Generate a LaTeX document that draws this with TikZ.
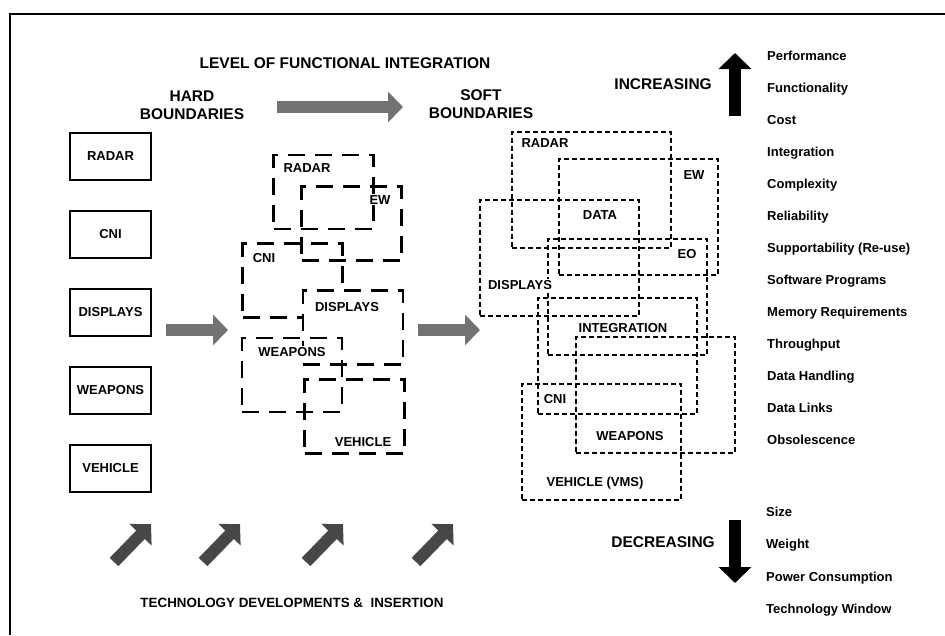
\documentclass[tikz,border=0pt]{standalone}
\usepackage{fontspec}
\setmainfont{Liberation Sans}
\usetikzlibrary{arrows.meta, positioning}

\tikzset{
    hardbox/.style={draw, line width=2pt, minimum width=81pt, minimum height=47pt, inner sep=0pt,
        font=\fontsize{13}{15}\selectfont\bfseries},
    midbox/.style={draw, line width=2.2pt, dash pattern=on 17pt off 10pt,
        minimum width=100pt, minimum height=74pt, inner sep=0pt},
    softbox/.style={draw, line width=2pt, dash pattern=on 5pt off 3pt,
        minimum width=159pt, minimum height=116pt, inner sep=0pt},
    boxtag/.style={fill=white, inner sep=1pt, font=\fontsize{13}{15}\selectfont\bfseries},
    headtext/.style={align=center, inner sep=0pt, font=\fontsize{15.5}{18}\selectfont\bfseries},
    listitem/.style={inner sep=0pt, text height=10pt, text depth=3pt,
        font=\fontsize{13}{15}\selectfont\bfseries},
    greyarrow/.style={line width=12pt, black!55, -{Triangle[width=30pt, length=15pt]}},
    techarrow/.style={line width=12pt, black!72, -{Triangle[width=30pt, length=15pt]}},
    trendarrow/.style={line width=12pt, black, -{Triangle[width=32pt, length=16pt]}},
}

\begin{document}
\begin{tikzpicture}[x=1pt, y=-1pt]
        \useasboundingbox (0, 0) rectangle (945, 635);
        \draw[line width=2pt] (10, 635) -- (10, 14) -- (945, 14);

        % headings
        \node[headtext] (Hlevel) at (345, 63) {LEVEL OF FUNCTIONAL INTEGRATION};
        \node[headtext] (Hhard) at (192, 105) {HARD\\BOUNDARIES};
        \node[headtext] (Hsoft) at (481, 104) {SOFT\\BOUNDARIES};
        \node[headtext, anchor=east] (Hinc) at (712, 84) {INCREASING};
        \node[headtext, anchor=east] (Hdec) at (715, 542) {DECREASING};
        \node[headtext, font=\fontsize{13.4}{16}\selectfont\bfseries] (Htech) at (292, 603)
            {TECHNOLOGY DEVELOPMENTS \&~~INSERTION};

        % hard boundaries
        \node[hardbox] (La) at (110.5, 156.5) {RADAR};
        \node[hardbox, below=29pt of La] (Lb) {CNI};
        \node[hardbox, below=29pt of Lb] (Lc) {DISPLAYS};
        \node[hardbox, below=29pt of Lc] (Ld) {WEAPONS};
        \node[hardbox, below=29pt of Ld] (Le) {VEHICLE};

        % partly merged
        \node[midbox] (Ma) at (323.5, 192) {};
        \node[midbox] (Mb) at (351.5, 223.5) {};
        \node[midbox] (Mc) at (292.5, 280.5) {};
        \node[midbox, fill=white] (Md) at (353, 327.5) {};
        \node[midbox] (Me) at (292, 375) {};
        \node[midbox] (Mf) at (354.5, 416.5) {};
        \node[boxtag] (Ta) at (307, 168) {RADAR};
        \node[boxtag] (Tb) at (380, 200) {EW};
        \node[boxtag] (Tc) at (264, 258) {CNI};
        \node[boxtag] (Td) at (347, 307) {DISPLAYS};
        \node[boxtag] (Te) at (292, 352) {WEAPONS};
        \node[boxtag] (Tf) at (363, 442) {VEHICLE};

        % soft boundaries
        \node[softbox] (Sa) at (591, 190) {};
        \node[softbox] (Sb) at (638.5, 217) {};
        \node[softbox] (Sc) at (559, 258) {};
        \node[softbox] (Sd) at (627, 297) {};
        \node[softbox] (Se) at (617, 355.5) {};
        \node[softbox] (Sf) at (655, 395) {};
        \node[softbox] (Sg) at (601, 441.5) {};
        \node[boxtag] (Ua) at (545, 143) {RADAR};
        \node[boxtag] (Ub) at (694, 175) {EW};
        \node[boxtag] (Uc) at (600, 215) {DATA};
        \node[boxtag] (Ud) at (687, 254) {EO};
        \node[boxtag] (Ue) at (520, 285) {DISPLAYS};
        \node[boxtag] (Uf) at (623, 328) {INTEGRATION};
        \node[boxtag] (Ug) at (555, 399) {CNI};
        \node[boxtag] (Uh) at (630, 436) {WEAPONS};
        \node[boxtag] (Ui) at (595, 483) {VEHICLE (VMS)};

        % grey arrows
        \coordinate (Ga) at (277, 107);
        \coordinate (Gb) at (403, 107);
        \coordinate (Gc) at (166, 330);
        \coordinate (Gd) at (228, 330);
        \coordinate (Ge) at (418, 330);
        \coordinate (Gf) at (480, 330);
        \draw[greyarrow] (Ga) -- (Gb);
        \draw[greyarrow] (Gc) -- (Gd);
        \draw[greyarrow] (Ge) -- (Gf);

        \coordinate (Da) at (114, 562);
        \coordinate (Db) at (151, 524);
        \coordinate (Dc) at (203, 562);
        \coordinate (Dd) at (240, 524);
        \coordinate (De) at (306, 562);
        \coordinate (Df) at (343, 524);
        \coordinate (Dg) at (416, 562);
        \coordinate (Dh) at (453, 524);
        \draw[techarrow] (Da) -- (Db);
        \draw[techarrow] (Dc) -- (Dd);
        \draw[techarrow] (De) -- (Df);
        \draw[techarrow] (Dg) -- (Dh);

        % trends
        \coordinate (Ka) at (735, 116);
        \coordinate (Kb) at (735, 53);
        \coordinate (Kc) at (735, 520);
        \coordinate (Kd) at (735, 583);
        \draw[trendarrow] (Ka) -- (Kb);
        \draw[trendarrow] (Kc) -- (Kd);

        \node[listitem, anchor=west] (Pa) at (767, 57) {Performance};
        \node[listitem, below=32pt of Pa.west, anchor=west] (Pb) {Functionality};
        \node[listitem, below=32pt of Pb.west, anchor=west] (Pc) {Cost};
        \node[listitem, below=32pt of Pc.west, anchor=west] (Pd) {Integration};
        \node[listitem, below=32pt of Pd.west, anchor=west] (Pe) {Complexity};
        \node[listitem, below=32pt of Pe.west, anchor=west] (Pf) {Reliability};
        \node[listitem, below=32pt of Pf.west, anchor=west] (Pg) {Supportability (Re-use)};
        \node[listitem, below=32pt of Pg.west, anchor=west] (Ph) {Software Programs};
        \node[listitem, below=32pt of Ph.west, anchor=west] (Pi) {Memory Requirements};
        \node[listitem, below=32pt of Pi.west, anchor=west] (Pj) {Throughput};
        \node[listitem, below=32pt of Pj.west, anchor=west] (Pk) {Data Handling};
        \node[listitem, below=32pt of Pk.west, anchor=west] (Pl) {Data Links};
        \node[listitem, below=32pt of Pl.west, anchor=west] (Pm) {Obsolescence};

        \node[listitem, anchor=west] (Qa) at (766, 513) {Size};
        \node[listitem, below=32.3pt of Qa.west, anchor=west] (Qb) {Weight};
        \node[listitem, below=32.3pt of Qb.west, anchor=west] (Qc) {Power Consumption};
        \node[listitem, below=32.3pt of Qc.west, anchor=west] (Qd) {Technology Window};
\end{tikzpicture}
\end{document}
